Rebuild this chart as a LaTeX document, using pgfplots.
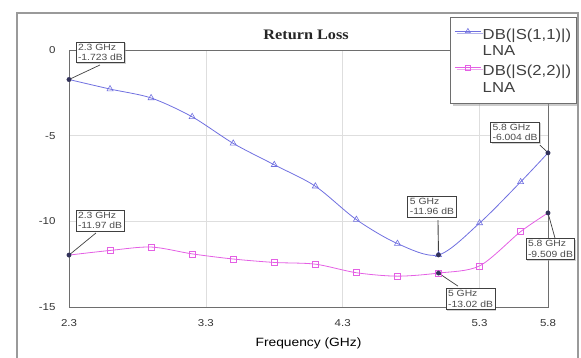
\documentclass[border=0pt]{standalone}
\usepackage{pgfplots}
\pgfplotsset{compat=1.18}
\usepackage{fontspec}
\setmainfont{Liberation Sans}[FakeStretch=1.15]
\newfontfamily\titlefont{Liberation Serif}[FakeStretch=1.12]
\usetikzlibrary{shadows}
\definecolor{sone}{RGB}{112,112,224}
\definecolor{stwo}{RGB}{228,96,228}
\definecolor{mk}{RGB}{50,50,90}
\definecolor{framec}{RGB}{110,110,110}
\pgfplotstableread{
f s11 s22
2.3 -1.723 -11.97
2.6 -2.28 -11.7
2.9 -2.80 -11.5
3.2 -3.90 -11.9
3.5 -5.45 -12.2
3.8 -6.70 -12.4
4.1 -7.95 -12.5
4.4 -9.90 -13.0
4.7 -11.30 -13.2
5.0 -11.96 -13.02
5.3 -10.10 -12.6
5.6 -7.70 -10.6
5.8 -6.004 -9.509
}\datatable
\begin{document}
\begin{tikzpicture}[x=1pt,y=1pt]
\begin{axis}[
  name=ax,
  anchor=south west,
  scale only axis, width=479pt, height=257pt,
  xmin=2.3, xmax=5.8, ymin=-15, ymax=0,
  clip=false,
  axis line style={draw=framec, line width=0.9pt},
  xtick={2.3,3.3,4.3,5.3,5.8},
  xticklabels={2.3,3.3,4.3,5.3,5.8},
  ytick={-15,-10,-5,0},
  yticklabels={-15,-10,-5,0},
  major tick length=0pt,
  grid=major,
  major grid style={draw=black!13, line width=0.7pt},
  tick label style={font=\fontsize{10}{12}\selectfont, text=black!80},
  xticklabel style={yshift=-9},
  yticklabel style={xshift=-10},
  xlabel={Frequency (GHz)},
  xlabel style={font=\fontsize{12}{14}\selectfont, at={(axis description cs:0.5,0)}, anchor=center, yshift=-36},
  legend style={at={(1.0605,1.128)}, anchor=north east, draw=framec, line width=0.8pt, fill=white,
    drop shadow={shadow xshift=2pt, shadow yshift=-2pt, fill=black!40},
    font=\fontsize{14.5}{16.5}\selectfont, nodes={text=black!75, inner xsep=1.5pt},
    inner xsep=4pt, inner ysep=8pt, row sep=3pt},
  legend cell align=left,
  legend image code/.code={%
    \draw[#1, mark=none, line width=0.7pt] (0pt,11pt) -- (26pt,11pt);
    \draw[#1, only marks, mark size=2.8pt, mark indices={2}] plot coordinates {(0pt,11pt) (13pt,11pt)};},
]
\addplot[sone, line width=0.8pt, smooth, tension=0.5, mark=triangle, mark size=3.5pt, mark indices={2,...,12}, mark options={solid, line width=0.6pt}] table[x=f, y=s11] {\datatable};
\addlegendentry{\begin{tabular}[b]{@{}l@{}}DB(|S(1,1)|)\\LNA\end{tabular}}
\addplot[stwo, line width=0.8pt, smooth, tension=0.5, mark=square, mark size=3pt, mark indices={2,...,12}, mark options={solid, line width=0.6pt}] table[x=f, y=s22] {\datatable};
\addlegendentry{\begin{tabular}[b]{@{}l@{}}DB(|S(2,2)|)\\LNA\end{tabular}}
% marker points
\addplot[only marks, mark=*, mark size=2.2pt, mk, forget plot] coordinates {(2.3,-1.723) (5.0,-11.96) (5.8,-6.004) (2.3,-11.97) (5.0,-13.02) (5.8,-9.509)};
% annotation pointers
\draw[black!75, line width=0.7pt] (axis cs:2.3,-1.723) -- (axis cs:2.526,-0.876);
\draw[black!75, line width=0.7pt] (axis cs:5.741,-5.546) -- (axis cs:5.8,-6.004);
\draw[black!75, line width=0.9pt] (axis cs:4.996,-9.924) -- (axis cs:5.0,-11.96);
\draw[black!75, line width=0.7pt] (axis cs:2.3,-11.97) -- (axis cs:2.497,-10.68);
\draw[black!75, line width=0.7pt] (axis cs:5.0,-13.02) -- (axis cs:5.142,-13.78);
\draw[black!75, line width=0.7pt] (axis cs:5.8,-9.509) -- (axis cs:5.851,-10.975);
\tikzset{ann/.style={draw=black!75, line width=0.9pt, fill=white, align=left, inner sep=2pt,
   font=\fontsize{9}{10.5}\selectfont, text=black!70,
   drop shadow={shadow xshift=1.2pt, shadow yshift=-1.2pt, fill=black!35}}}
\node[ann] at (axis cs:2.530,-0.146) {2.3 GHz\\-1.723 dB};
\node[ann] at (axis cs:5.559,-4.816) {5.8 GHz\\-6.004 dB};
\node[ann] at (axis cs:4.952,-9.136) {5 GHz\\-11.96 dB};
\node[ann] at (axis cs:2.527,-9.953) {2.3 GHz\\-11.97 dB};
\node[ann] at (axis cs:5.234,-14.536) {5 GHz\\-13.02 dB};
\node[ann, anchor=east] at (axis cs:6.0,-11.617) {5.8 GHz\\-9.509 dB};
\node[font=\titlefont\bfseries\fontsize{14.5}{16}\selectfont, text=black!85] at (axis description cs:0.495,1) [yshift=15] {Return Loss};
\end{axis}
\begin{scope}[shift={(ax.south west)}]
\draw[framec!70, line width=1.3pt] (-52,-60) -- (-52,294) -- (509,294) -- (509,-60);
\pgfresetboundingbox
\useasboundingbox (-69,-51) rectangle (512,307);
\end{scope}
\end{tikzpicture}
\end{document}
